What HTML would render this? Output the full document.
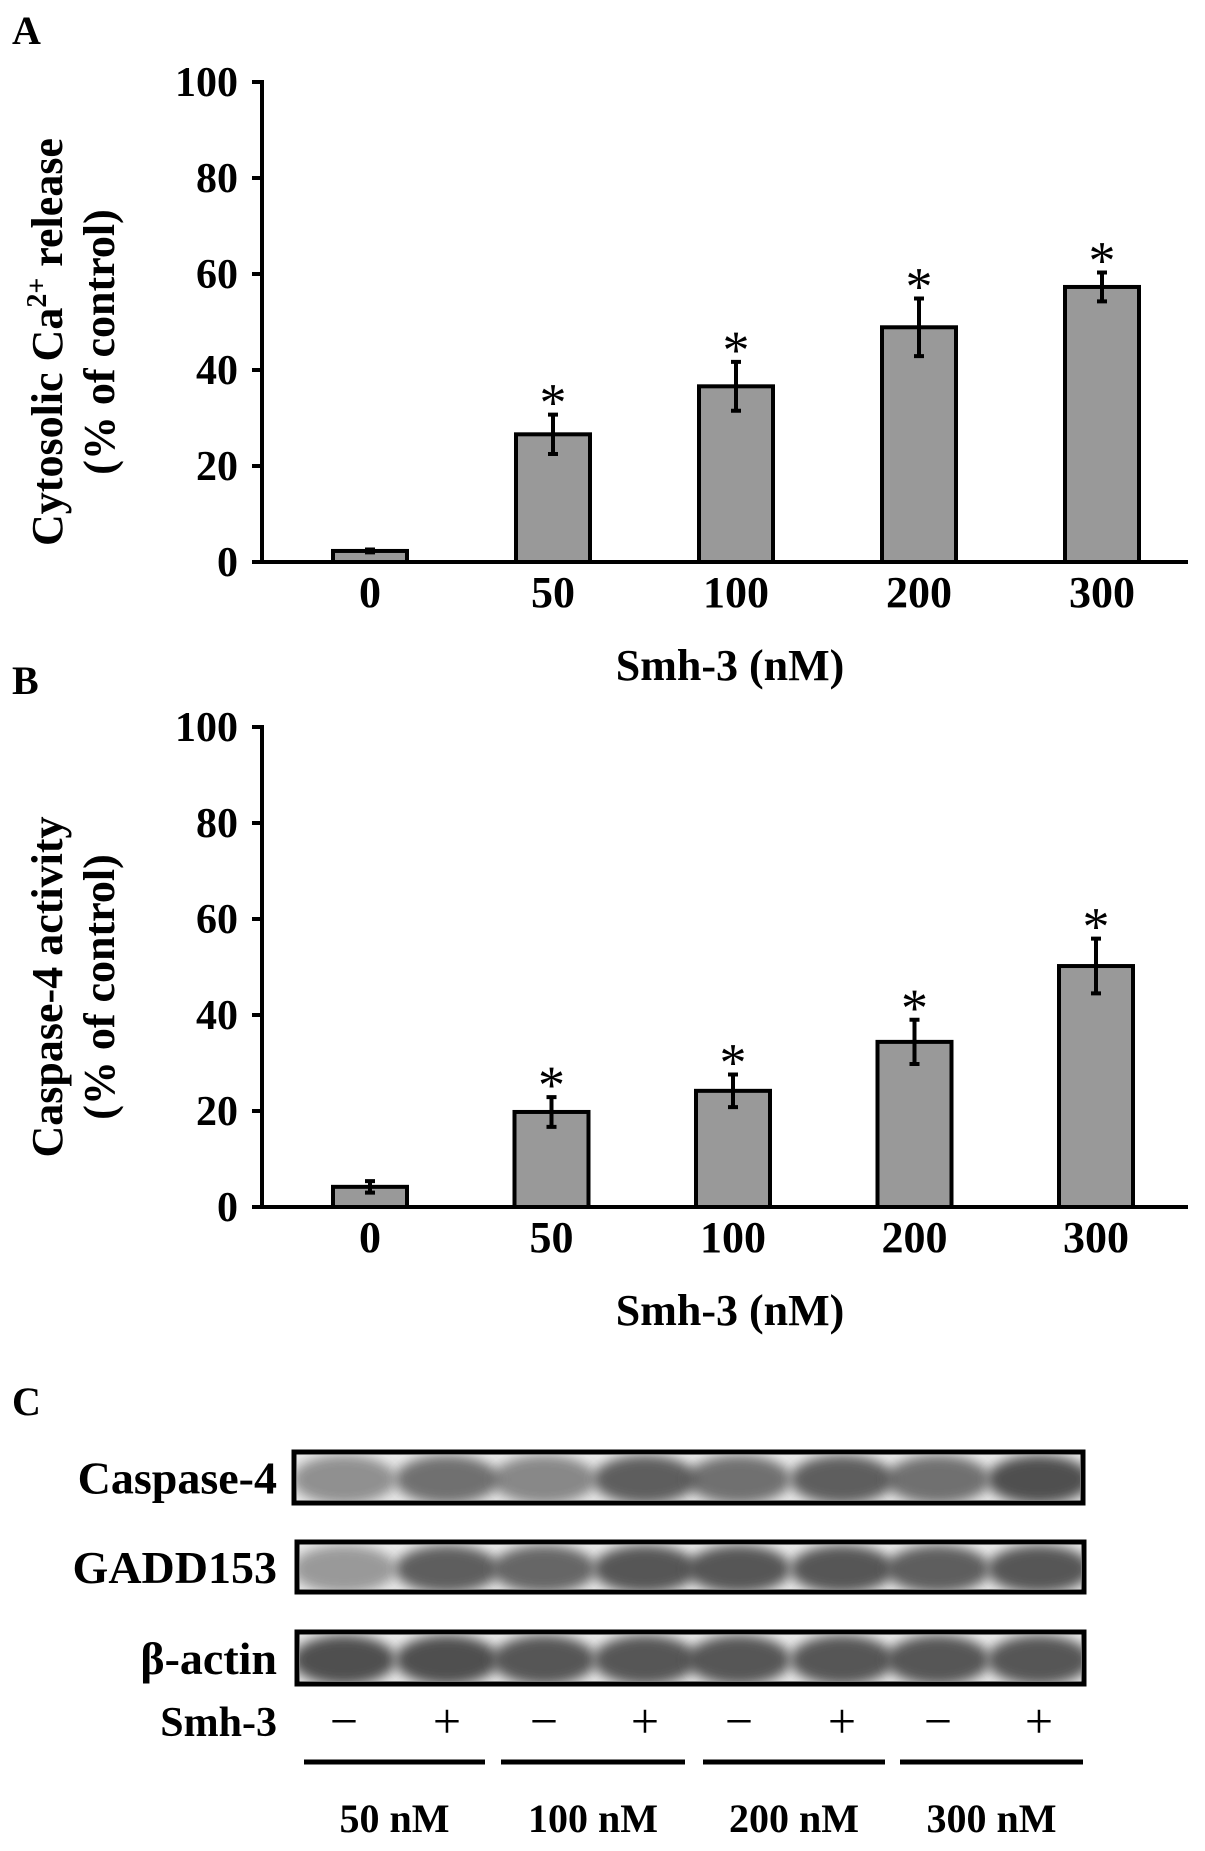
<!DOCTYPE html>
<html><head><meta charset="utf-8"><style>
html,body{margin:0;padding:0;background:#fff;}
svg{display:block;font-family:"Liberation Serif",serif;font-weight:bold;}
</style></head><body>
<svg id="fig" width="1205" height="1851" viewBox="0 0 1205 1851">
<defs>
<filter id="blur" x="-30%" y="-50%" width="160%" height="200%"><feGaussianBlur stdDeviation="6"/></filter>
<clipPath id="c1"><rect x="297" y="1455" width="783" height="45"/></clipPath>
<clipPath id="c2"><rect x="300" y="1545" width="781" height="44"/></clipPath>
<clipPath id="c3"><rect x="300" y="1635" width="781" height="46"/></clipPath>
</defs>
<text x="12" y="44" font-size="40">A</text>
<text x="12" y="694" font-size="40">B</text>
<text x="12" y="1415" font-size="40">C</text>
<g id="chartA"></g>
<g id="chartB"></g>
<g id="blots"></g>
</svg>
<script>
const categories = ["0","50","100","200","300"];
const valuesA = [2.3, 26.6, 36.6, 48.9, 57.3];
const errorsA = [0.3, 4.1, 5.1, 6.0, 3.0];
const valuesB = [4.2, 19.8, 24.2, 34.4, 50.2];
const errorsB = [1.2, 3.1, 3.4, 4.6, 5.7];
const sigA = [false, true, true, true, true];
const sigB = [false, true, true, true, true];
const yTicks = [0, 20, 40, 60, 80, 100];
const blotRows = ["Caspase-4", "GADD153", "β-actin"];
const signs = ["−","+","−","+","−","+","−","+"];
const doses = ["50 nM","100 nM","200 nM","300 nM"];
const intensA = [0.55,0.75,0.6,0.85,0.75,0.85,0.75,0.95];
const intensB = [0.5,0.85,0.8,0.9,0.9,0.9,0.85,0.9];
const intensC = [0.95,0.95,0.9,0.9,0.9,0.9,0.9,0.9];

const NS = "http://www.w3.org/2000/svg";
function mk(parent, tag, attrs, text) {
  const e = document.createElementNS(NS, tag);
  for (const k in attrs) e.setAttribute(k, attrs[k]);
  if (text !== undefined) e.textContent = text;
  parent.appendChild(e);
  return e;
}

function drawChart(gid, vals, errs, sig, y0, y100, centers, ytitleLines, prefix) {
  const g = document.getElementById(gid);
  const axX = 262, axEnd = 1188;
  const y = v => y0 + (y100 - y0) * v / 100;
  const xOf = i => centers[0] + i * (centers[1] - centers[0]);
  const bw = 74;
  let e = mk(g, "line", {x1: axX, y1: y(100) - 2, x2: axX, y2: y0 + 2, stroke: "#000", "stroke-width": 4});
  
  
  e = mk(g, "line", {x1: axX - 2, y1: y0, x2: axEnd, y2: y0, stroke: "#000", "stroke-width": 4});
  
  
  yTicks.forEach(t => {
    let tk = mk(g, "line", {x1: axX - 10, y1: y(t), x2: axX, y2: y(t), stroke: "#000", "stroke-width": 4});
    
    
    let tl = mk(g, "text", {x: 238, y: y(t) + 14, "font-size": 42, "text-anchor": "end"}, String(t));
    
    
  });
  vals.forEach((v, i) => {
    const cx = xOf(i);
    let b = mk(g, "rect", {x: cx - bw / 2, y: y(v), width: bw, height: y0 - y(v), fill: "#999", stroke: "#000", "stroke-width": 4});
    
    
    const hi = y(v + errs[i]), lo = y(v - errs[i]);
    let eb = mk(g, "path", {d: `M${cx},${hi}V${lo}M${cx-5},${hi}H${cx+5}M${cx-5},${lo}H${cx+5}`, stroke: "#000", "stroke-width": 4, fill: "none"});
    
    
    if (sig[i]) {
      let s = mk(g, "text", {x: cx, y: hi + 6, "font-size": 54, "font-weight": "normal", "text-anchor": "middle"}, "*");
      
      
    }
    let xl = mk(g, "text", {x: cx, y: y0 + 45, "font-size": 44, "text-anchor": "middle"}, categories[i]);
    
    
  });
  let xt = mk(g, "text", {x: 730, y: y0 + 118, "font-size": 44, "text-anchor": "middle"}, "Smh-3 (nM)");
  
  
  const midY = (y0 + y(100)) / 2 + 20;
  let yt = mk(g, "text", {transform: `translate(62,${midY}) rotate(-90)`, "font-size": 44, "text-anchor": "middle"});
  
  
  ytitleLines[0].forEach(p => { mk(yt, "tspan", p.sup ? {"font-size": 28, dy: -16} : (p.after ? {dy: 16} : {}), p.t); });
  let yt2 = mk(g, "text", {transform: `translate(114,${midY}) rotate(-90)`, "font-size": 44, "text-anchor": "middle"}, ytitleLines[1]);
  
  
}

drawChart("chartA", valuesA, errorsA, sigA, 562, 82, [370, 553], [[{t:"Cytosolic Ca"},{t:"2+",sup:true},{t:"  release",after:true}], "(% of control)"], "a");
drawChart("chartB", valuesB, errorsB, sigB, 1207, 727, [370, 551.5], [[{t:"Caspase-4 activity"}], "(% of control)"], "b");

const bg = document.getElementById("blots");
const laneX = [344,447,544,645,739,842,938,1039];
const rowsY = [[294,1452,1083,1503,"c1",intensA],[297,1542,1084,1592,"c2",intensB],[297,1632,1084,1684,"c3",intensC]];
const labelX = 277;
rowsY.forEach((r, ri) => {
  const [x1, y1, x2, y2, clip, inten] = r;
  let lb = mk(bg, "text", {x: labelX, y: (y1 + y2) / 2 + 16, "font-size": 46, "text-anchor": "end"}, blotRows[ri]);
  
  
  let bgr = mk(bg, "rect", {x: x1, y: y1, width: x2 - x1, height: y2 - y1, fill: "#ececec"});
  
  
  const cg = mk(bg, "g", {"clip-path": `url(#${clip})`});
  laneX.forEach((lx, li) => {
    const a = inten[li];
    let band = mk(cg, "ellipse", {cx: lx, cy: (y1 + y2) / 2 + 2, rx: 52, ry: (y2 - y1) * 0.48, fill: `rgba(70,70,70,${a})`, filter: "url(#blur)"});
    
    
  });
  let fr = mk(bg, "rect", {x: x1, y: y1, width: x2 - x1, height: y2 - y1, fill: "none", stroke: "#000", "stroke-width": 5});
  
  
});
let sl = mk(bg, "text", {x: labelX, y: 1736, "font-size": 42, "text-anchor": "end"}, "Smh-3");


signs.forEach((s, i) => {
  let t = mk(bg, "text", {x: laneX[i], y: 1738, "font-size": 50, "font-weight": "normal", "text-anchor": "middle"}, s);
  
  
});
const segX = [[304,485],[501,685],[703,885],[900,1083]];
doses.forEach((d, i) => {
  let ln = mk(bg, "line", {x1: segX[i][0], y1: 1762, x2: segX[i][1], y2: 1762, stroke: "#000", "stroke-width": 5});
  
  
  let t = mk(bg, "text", {x: (segX[i][0] + segX[i][1]) / 2, y: 1832, "font-size": 40, "text-anchor": "middle"}, d);
  
  
});
</script>
</body></html>
